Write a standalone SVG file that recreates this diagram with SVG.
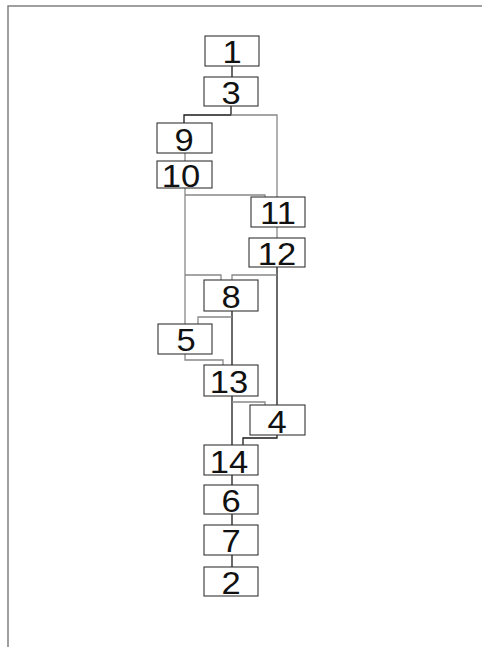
<svg xmlns="http://www.w3.org/2000/svg" width="482" height="647" viewBox="0 0 482 647">
<style>
.b{fill:#fff;stroke:#333;stroke-width:1.1}
.t{font-family:"Liberation Sans",Arial,sans-serif;font-size:32px;fill:#111;text-anchor:middle}
.d{fill:none;stroke:#1a1a1a;stroke-width:1.3}
.g{fill:none;stroke:#888;stroke-width:1.3}
</style>
<rect width="482" height="647" fill="#fff"/>
<polyline points="8,647 8,6 482,6" fill="none" stroke="#808080" stroke-width="1.5"/>
<g id="connectors">
<path class="d" d="M232,66V77"/>
<path class="d" d="M231,106V115H184V123"/>
<path class="g" d="M231,115H277V197"/>
<path class="g" d="M185,153V161"/>
<path class="g" d="M185,188V324"/>
<path class="g" d="M185,195H265V197"/>
<path class="g" d="M277,227V238"/>
<path class="d" d="M277,267V405"/>
<path class="g" d="M277,275H232V280"/>
<path class="g" d="M185,275H221V280"/>
<path class="d" d="M232,311V445"/>
<path class="g" d="M232,317H198V324"/>
<path class="g" d="M185,354V360H223V365"/>
<path class="g" d="M232,402H265V405"/>
<path class="d" d="M277,435V438H243V445"/>
<path class="d" d="M232,475V485"/>
<path class="d" d="M232,514V525"/>
<path class="d" d="M232,555V567"/>
</g>
<g id="n1"><rect class="b" x="205" y="36" width="54" height="30"/><text class="t" transform="translate(232,63) scale(1.08,1)">1</text></g>
<g id="n3"><rect class="b" x="204" y="77" width="54" height="29"/><text class="t" transform="translate(231,104) scale(1.08,1)">3</text></g>
<g id="n9"><rect class="b" x="157" y="123" width="55" height="30"/><text class="t" transform="translate(184,151) scale(1.08,1)">9</text></g>
<g id="n10"><rect class="b" x="157" y="161" width="55" height="27"/><text class="t" transform="translate(181,187) scale(1.08,1)">10</text></g>
<g id="n11"><rect class="b" x="251" y="197" width="54" height="30"/><text class="t" transform="translate(278,224) scale(1.08,1)">11</text></g>
<g id="n12"><rect class="b" x="249" y="238" width="56" height="29"/><text class="t" transform="translate(277,265) scale(1.08,1)">12</text></g>
<g id="n8"><rect class="b" x="204" y="280" width="54" height="31"/><text class="t" transform="translate(231,308) scale(1.08,1)">8</text></g>
<g id="n5"><rect class="b" x="158" y="324" width="54" height="30"/><text class="t" transform="translate(186,351) scale(1.08,1)">5</text></g>
<g id="n13"><rect class="b" x="204" y="365" width="54" height="31"/><text class="t" transform="translate(229,393) scale(1.08,1)">13</text></g>
<g id="n4"><rect class="b" x="250" y="405" width="55" height="30"/><text class="t" transform="translate(277,433) scale(1.08,1)">4</text></g>
<g id="n14"><rect class="b" x="204" y="445" width="54" height="30"/><text class="t" transform="translate(229,473) scale(1.08,1)">14</text></g>
<g id="n6"><rect class="b" x="204" y="485" width="54" height="29"/><text class="t" transform="translate(231,512) scale(1.08,1)">6</text></g>
<g id="n7"><rect class="b" x="204" y="525" width="54" height="30"/><text class="t" transform="translate(231,552) scale(1.08,1)">7</text></g>
<g id="n2"><rect class="b" x="204" y="567" width="54" height="29"/><text class="t" transform="translate(231,594) scale(1.08,1)">2</text></g>
</svg>
